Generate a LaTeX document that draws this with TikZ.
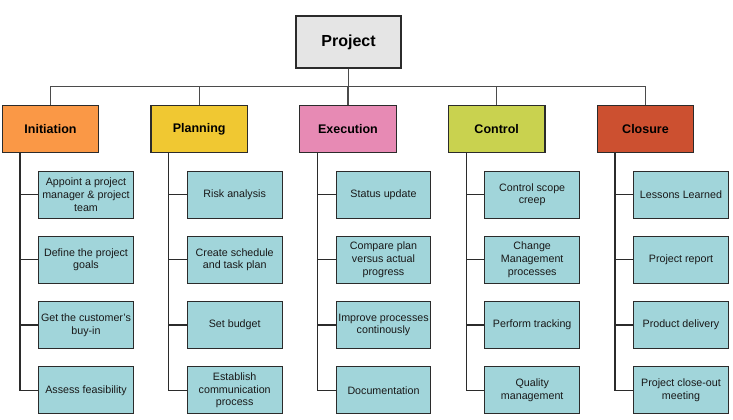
\documentclass[tikz,border=0pt]{standalone}
\usepackage{fontspec}
\setmainfont{Liberation Sans}
\definecolor{projfill}{HTML}{E5E5E5}
\definecolor{initfill}{HTML}{FA9846}
\definecolor{planfill}{HTML}{F0C832}
\definecolor{execfill}{HTML}{E78AB4}
\definecolor{ctrlfill}{HTML}{C9D24F}
\definecolor{closfill}{HTML}{CC5030}
\definecolor{taskfill}{HTML}{A1D5DA}
\definecolor{linecol}{HTML}{2B2B2B}
\begin{document}
\begin{tikzpicture}[x=1pt,y=-1pt,
  rootbox/.style={draw=linecol,line width=1.1pt,fill=projfill,minimum width=105pt,minimum height=52pt,inner sep=0pt,font=\fontsize{16}{19}\selectfont\bfseries},
  phasebox/.style={draw=linecol,line width=1.1pt,minimum width=96.5pt,minimum height=47.5pt,inner sep=0pt,font=\fontsize{12.5}{15}\selectfont\bfseries},
  taskbox/.style={draw=linecol,line width=1.1pt,fill=taskfill,minimum width=94.7pt,minimum height=47pt,inner sep=0pt,align=center,text=black!90,font=\fontsize{10.7}{12.7}\selectfont},
  busconn/.style={draw=linecol!85,line width=1.1pt},
  conn/.style={draw=linecol,line width=1.3pt}]
\fill[white] (0,0) rectangle (733,420);
\useasboundingbox (0,0) rectangle (733,420);

\node[rootbox] (P) at (348.5,42) {Project};
\coordinate (bus) at (0,86.7);

\node[phasebox,fill=initfill] (I) at (50.5,129) {Initiation};
\node[phasebox,fill=planfill] (Pl) at (199.2,129) {Planning};
\node[phasebox,fill=execfill] (E) at (348,129) {Execution};
\node[phasebox,fill=ctrlfill] (C) at (496.7,129) {Control};
\node[phasebox,fill=closfill] (Cl) at (645.5,129) {Closure};

\foreach \n in {I,Pl,E,C,Cl}{
  \draw[busconn] (P.south) -- (P.south |- bus) -| (\n.north);
}

% Initiation tasks
\node[taskbox] (I1) at (86,194.7) {Appoint a project\\manager \& project\\team};
\node[taskbox] (I2) at (86,259.7) {Define the project\\goals};
\node[taskbox] (I3) at (86,325) {Get the customer's\\buy-in};
\node[taskbox] (I4) at (86,390.3) {Assess feasibility};
% Planning tasks
\node[taskbox] (Pl1) at (234.7,194.7) {Risk analysis};
\node[taskbox] (Pl2) at (234.7,259.7) {Create schedule\\and task plan};
\node[taskbox] (Pl3) at (234.7,325) {Set budget};
\node[taskbox] (Pl4) at (234.7,390.3) {Establish\\communication\\process};
% Execution tasks
\node[taskbox] (E1) at (383.5,194.7) {Status update};
\node[taskbox] (E2) at (383.5,259.7) {Compare plan\\versus actual\\progress};
\node[taskbox] (E3) at (383.5,325) {Improve processes\\continously};
\node[taskbox] (E4) at (383.5,390.3) {Documentation};
% Control tasks
\node[taskbox] (C1) at (532.2,194.7) {Control scope\\creep};
\node[taskbox] (C2) at (532.2,259.7) {Change\\Management\\processes};
\node[taskbox] (C3) at (532.2,325) {Perform tracking};
\node[taskbox] (C4) at (532.2,390.3) {Quality\\management};
% Closure tasks
\node[taskbox] (Cl1) at (681,194.7) {Lessons Learned};
\node[taskbox] (Cl2) at (681,259.7) {Project report};
\node[taskbox] (Cl3) at (681,325) {Product delivery};
\node[taskbox] (Cl4) at (681,390.3) {Project close-out\\meeting};

\foreach \n in {I,Pl,E,C,Cl}{
  \coordinate (s\n) at ([xshift=18.4pt]\n.south west);
  \foreach \k in {1,2,3,4}{
    \draw[conn] (s\n) |- (\n\k.west);
  }
}
\end{tikzpicture}
\end{document}
